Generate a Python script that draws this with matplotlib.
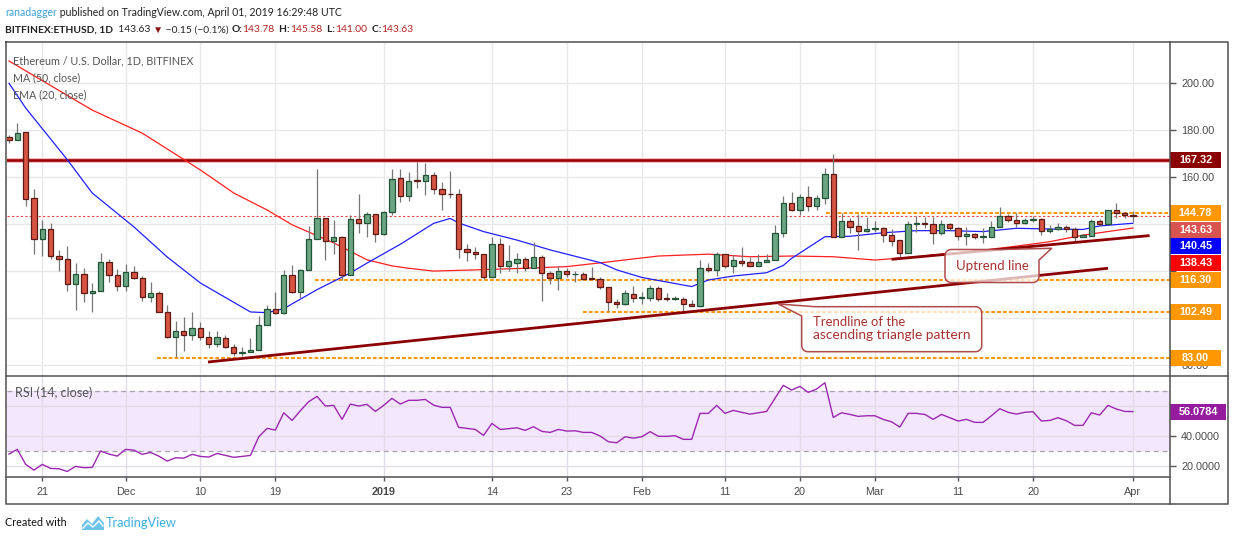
import matplotlib
matplotlib.use("Agg")
import matplotlib.pyplot as plt
import matplotlib.transforms as mtransforms
from matplotlib.patches import Rectangle, Polygon
from matplotlib.ticker import FuncFormatter
import numpy as np
import pandas as pd

plt.rcParams["font.family"] = ["Liberation Sans", "DejaVu Sans"]
NARROW = ["Lato", "Liberation Sans", "DejaVu Sans"]

START = pd.Timestamp("2018-11-17")

# daily OHLC, ETH/USD Bitfinex, 2018-11-17 .. 2019-04-01
opens = [177.2, 175.9, 179.3, 151.2, 133.8, 138.0, 126.7, 125.2, 114.8, 118.9,
         110.8, 111.5, 124.0, 118.4, 113.6, 119.7, 117.2, 109.1, 110.8, 102.7,
         91.9, 94.7, 92.9, 95.9, 91.9, 89.1, 91.6, 87.8, 85.2, 85.7,
         86.7, 97.3, 104.0, 102.3, 118.6, 111.2, 120.6, 133.8, 142.7, 133.0,
         134.6, 118.4, 142.3, 140.6, 144.4, 136.0, 145.2, 159.6, 152.2, 158.8,
         158.3, 161.0, 154.9, 152.9, 152.8, 129.3, 128.4, 127.2, 117.7, 131.5,
         122.4, 123.6, 125.2, 121.6, 125.9, 119.1, 117.3, 120.1, 118.7, 118.7,
         117.3, 116.9, 113.2, 107.1, 106.0, 110.2, 108.5, 108.6, 112.7, 108.7,
         108.4, 108.4, 106.0, 105.4, 121.3, 120.7, 127.4, 122.3, 124.5, 123.8,
         122.4, 123.8, 124.7, 136.1, 148.9, 146.1, 151.5, 148.0, 151.1, 161.4,
         134.7, 141.4, 139.3, 137.3, 138.0, 138.3, 135.5, 133.3, 128.0, 140.0,
         140.4, 140.0, 136.2, 140.0, 138.3, 135.2, 136.0, 134.5, 134.7, 139.0,
         143.6, 141.8, 140.4, 141.7, 142.3, 137.2, 138.0, 139.0, 137.9, 134.7,
         135.2, 141.5, 140.0, 145.9, 144.6, 143.78]
highs = [178.2, 183.1, 179.3, 155.0, 142.0, 140.6, 129.2, 130.6, 123.5, 121.4,
         115.0, 127.8, 125.2, 121.0, 123.3, 122.4, 117.9, 115.6, 111.5, 105.8,
         99.0, 100.4, 102.6, 98.3, 94.5, 94.5, 93.0, 89.1, 87.8, 91.6,
         100.9, 105.8, 111.1, 120.7, 122.8, 121.1, 139.1, 163.5, 142.7, 142.0,
         135.2, 144.1, 153.0, 145.2, 144.4, 145.8, 163.5, 163.4, 162.1, 166.6,
         166.0, 162.4, 158.1, 162.6, 154.9, 131.5, 130.2, 127.2, 134.7, 134.3,
         131.2, 127.9, 126.2, 132.6, 127.0, 120.1, 122.2, 121.5, 120.1, 119.8,
         122.0, 117.7, 113.5, 108.2, 112.1, 113.9, 111.3, 114.1, 113.9, 110.9,
         109.5, 109.2, 107.8, 124.8, 123.4, 128.1, 127.4, 127.0, 130.2, 126.2,
         127.3, 127.2, 139.7, 152.0, 153.9, 152.9, 156.3, 152.5, 163.8, 169.9,
         144.6, 142.5, 144.4, 142.9, 141.4, 138.7, 137.9, 133.3, 141.2, 143.5,
         143.2, 143.2, 141.8, 140.4, 138.7, 138.7, 136.4, 138.3, 141.4, 147.5,
         144.3, 144.9, 142.5, 143.5, 142.5, 139.7, 140.4, 139.7, 138.7, 135.7,
         142.1, 142.1, 146.3, 149.2, 145.3, 145.58]
lows = [174.7, 175.9, 147.7, 127.4, 126.4, 125.2, 120.0, 111.5, 103.4, 106.8,
        102.7, 111.5, 115.3, 111.5, 111.8, 116.7, 107.2, 106.8, 102.6, 91.6,
        83.4, 86.0, 90.9, 90.9, 87.4, 87.8, 87.4, 84.1, 84.1, 85.7,
        86.7, 97.3, 101.8, 101.8, 110.8, 108.6, 120.6, 133.8, 125.0, 127.5,
        116.2, 118.4, 136.3, 134.6, 132.3, 135.3, 143.8, 149.6, 150.1, 155.3,
        152.5, 152.9, 146.1, 151.3, 125.5, 124.5, 125.1, 116.6, 117.7, 119.1,
        120.3, 119.4, 120.1, 121.6, 107.3, 114.6, 112.1, 117.7, 115.6, 116.3,
        116.9, 112.3, 103.2, 104.3, 105.7, 107.1, 105.9, 107.5, 107.2, 107.2,
        107.8, 102.4, 105.4, 105.0, 119.7, 118.0, 121.4, 119.1, 122.4, 122.4,
        122.4, 123.8, 124.7, 134.7, 145.8, 143.9, 145.7, 146.1, 148.7, 134.7,
        134.7, 136.2, 129.2, 136.9, 136.9, 132.6, 130.8, 126.2, 128.0, 136.9,
        138.3, 131.6, 135.5, 137.6, 133.4, 131.0, 133.8, 132.2, 134.5, 139.0,
        141.1, 138.7, 140.1, 141.1, 135.5, 136.5, 137.6, 136.9, 133.1, 134.5,
        135.2, 139.3, 140.0, 142.5, 142.8, 141.00]
closes = [175.9, 178.9, 150.8, 133.8, 138.0, 126.7, 125.2, 114.8, 118.9, 110.8,
          111.8, 124.0, 118.4, 113.6, 119.7, 117.2, 109.1, 110.8, 102.7, 91.9,
          94.7, 92.9, 95.9, 91.9, 89.1, 91.9, 87.8, 85.2, 85.7, 86.7,
          97.3, 104.0, 102.3, 118.6, 111.2, 120.6, 133.8, 142.7, 133.0, 134.6,
          118.4, 142.3, 140.6, 144.4, 136.0, 145.2, 159.3, 152.2, 158.3, 158.3,
          161.0, 154.9, 152.8, 152.7, 129.3, 128.4, 127.2, 117.7, 131.5, 122.4,
          124.4, 125.2, 121.6, 125.9, 119.1, 117.3, 120.1, 118.7, 119.0, 116.9,
          116.9, 113.2, 107.1, 106.0, 110.7, 108.5, 109.0, 112.7, 108.4, 108.4,
          108.7, 106.0, 105.4, 121.3, 120.7, 127.4, 122.3, 124.8, 123.7, 122.4,
          123.8, 124.7, 136.1, 148.9, 146.1, 151.5, 148.0, 151.1, 161.4, 134.7,
          141.4, 139.0, 137.3, 138.0, 138.3, 135.5, 133.1, 128.0, 140.2, 140.4,
          140.0, 136.2, 140.0, 138.3, 135.2, 136.0, 134.5, 134.7, 139.0, 143.6,
          141.8, 140.4, 141.8, 142.3, 137.2, 138.0, 139.0, 137.9, 134.7, 135.3,
          141.5, 140.0, 145.9, 144.6, 143.8, 143.63]

rsi = [27.8, 30.9, 20.9, 17.1, 20.9, 18.2, 18.0, 16.2, 19.6, 18.7,
       18.9, 29.8, 27.8, 26.4, 30.9, 30.4, 27.6, 28.9, 26.4, 23.1,
       25.3, 25.1, 27.6, 26.2, 25.8, 28.2, 26.9, 25.6, 26.2, 26.9,
       39.3, 44.9, 43.8, 55.3, 50.2, 56.7, 62.7, 66.2, 59.8, 60.2,
       50.9, 61.1, 59.8, 60.9, 56.2, 60.2, 64.9, 61.1, 63.6, 63.6,
       64.2, 60.4, 58.9, 58.9, 45.6, 44.9, 44.2, 40.2, 48.2, 44.2,
       44.7, 45.3, 43.6, 46.0, 42.9, 42.2, 44.2, 43.1, 43.3, 42.2,
       42.2, 39.8, 36.0, 35.3, 39.3, 38.4, 39.3, 42.7, 39.6, 39.6,
       40.0, 37.6, 37.6, 54.9, 54.9, 60.2, 54.9, 56.9, 55.6, 54.4,
       55.3, 56.2, 64.9, 73.6, 70.4, 72.9, 68.9, 71.1, 75.3, 52.2,
       55.3, 54.2, 52.9, 53.3, 53.3, 50.9, 49.3, 45.8, 54.9, 54.9,
       54.2, 50.9, 54.2, 52.0, 49.8, 50.9, 48.9, 48.9, 53.3, 58.0,
       55.6, 54.4, 55.6, 56.0, 49.8, 50.2, 52.0, 50.0, 46.9, 46.9,
       55.3, 53.8, 60.2, 57.8, 56.2, 56.0784]

# EMA(20) and MA(50) read at sample days (days since START)
ema_days = [0, 2, 7, 10, 15, 19, 23, 29, 31, 33, 37, 41, 43, 47, 51, 53, 54, 57, 61, 65,
            71, 73, 76, 82, 83, 84, 87, 91, 93, 94, 98, 101, 105, 109, 113, 117, 121, 125, 129, 131, 135]
ema_vals = [200.0, 189.5, 167.5, 153.3, 138.9, 126.1, 115.0, 102.7, 102.4, 104.1, 112.2, 119.3,
            123.5, 131.5, 140.4, 142.5, 140.6, 136.9, 133.3, 129.1, 123.7, 120.6, 117.4, 113.5,
            114.9, 116.3, 118.0, 119.4, 122.5, 125.5, 134.7, 134.9, 136.4, 137.3, 137.3, 136.9,
            138.3, 138.0, 137.8, 139.3, 140.45]
ma_days = [0, 10, 16, 23, 27, 31, 34, 39, 43, 46, 48, 51, 56, 62, 67, 72, 78, 84, 89, 94,
           99, 104, 109, 113, 117, 121, 125, 129, 135]
ma_vals = [209.5, 188.6, 178.8, 163.1, 153.3, 146.1, 139.8, 132.1, 124.9, 122.3, 121.3, 120.1,
           120.6, 121.3, 122.0, 124.0, 126.5, 127.3, 126.2, 126.5, 126.2, 124.8, 126.2, 127.6,
           129.0, 130.7, 132.6, 135.4, 138.43]

# horizontal levels (orange dashed) and where they start (days)
resistance = 167.32
levels = [144.78, 116.30, 102.49, 83.00]
level_from = [98.1, 36.8, 68.9, 17.8]
last_price = 143.63

# trendlines (day, price)
tri_line = [(23.9, 81.4), (132.0, 121.3)]
up_line = [(106.0, 125.1), (137.0, 135.2)]

tag_vals = [167.32, 144.78, 143.63, 140.45, 138.43, 116.30, 102.49, 83.00]
tag_cols = ["#8b0000", "#ff9800", "#d9534f", "#0000ff", "#ff0000", "#ff9800", "#ff9800", "#ff9800"]
rsi_last = 56.0784

price_ticks = [80, 100, 120, 140, 160, 180, 200]
price_ticks_hidden = [100, 120, 140]   # covered by the price tags
rsi_ticks = [20, 40, 60]
rsi_ticks_hidden = [60]

tick_dates = ["2018-11-21", "2018-12-01", "2018-12-10", "2018-12-19", "2019-01-01", "2019-01-14",
              "2019-01-23", "2019-02-01", "2019-02-11", "2019-02-20", "2019-03-01", "2019-03-11",
              "2019-03-20", "2019-04-01"]
tick_labels = ["21", "Dec", "10", "19", "2019", "14", "23", "Feb", "11", "20", "Mar", "11", "20", "Apr"]
tick_pos = [(pd.Timestamp(d) - START).days for d in tick_dates]

W, H = 1234, 541
fig = plt.figure(figsize=(W / 100, H / 100), dpi=100)
fig.patch.set_facecolor("white")


def frac(l, t, r, b):
    return [l / W, 1 - b / H, (r - l) / W, (b - t) / H]


AX_L, AX_R = 6.5, 1170
ax = fig.add_axes(frac(AX_L, 43, AX_R, 376))
ax_rsi = fig.add_axes(frac(AX_L, 376, AX_R, 477))
ov = fig.add_axes([0, 0, 1, 1], zorder=10)
ov.set_xlim(0, W); ov.set_ylim(H, 0); ov.axis("off"); ov.patch.set_alpha(0)

XLIM = (-0.3, 139.45)
GRID = "#e8e8e8"
TXT = "#4a4a4a"
for a in (ax, ax_rsi):
    a.set_xlim(*XLIM)
    for s in a.spines.values():
        s.set_visible(False)
    a.set_axisbelow(True)
    a.set_xticks(tick_pos)
    a.yaxis.tick_right()
    a.tick_params(axis="y", length=4, width=1, color="#555555", labelcolor=TXT, labelsize=7.8, pad=4)

ax.set_ylim(75.45, 217.15)
ax.set_yticks(price_ticks)
ax.yaxis.set_major_formatter(FuncFormatter(
    lambda v, p: "" if round(v) in price_ticks_hidden else f"{v:.2f}"))
ax.tick_params(axis="x", length=0, labelbottom=False)
ax.grid(True, color=GRID, lw=1.0)

# ---- price pane ----
days = np.arange(len(closes))
o, c = np.array(opens), np.array(closes)
hi, lo = np.array(highs), np.array(lows)
up = c >= o
body_lo = np.minimum(o, c)
body_h = np.maximum(np.abs(c - o), 0.35)

ax.axhline(resistance, color="#f2b3b3", lw=3.4, zorder=2)
ax.axhline(resistance, color="#9b0000", lw=1.9, zorder=2.1)
for lv, x0 in zip(levels, level_from):
    ax.hlines(lv, x0, XLIM[1], color="#ff9800", lw=1.5, ls=(0, (1.8, 1.0)), zorder=2)
ax.axhline(last_price, color="#e8453c", lw=0.8, ls=(0, (2, 2)), zorder=2)

ax.plot(ma_days, ma_vals, color="#ff1f1f", lw=0.9, zorder=3)
ax.plot(ema_days, ema_vals, color="#2020ff", lw=0.9, zorder=3)

ax.vlines(days, lo, hi, color="#777777", lw=0.9, zorder=3.5)
ax.bar(days[up], body_h[up], bottom=body_lo[up], width=0.64, color="#6ba583",
       edgecolor="#225437", linewidth=0.9, zorder=4)
ax.bar(days[~up], body_h[~up], bottom=body_lo[~up], width=0.64, color="#d75442",
       edgecolor="#5b1a13", linewidth=0.9, zorder=4)

for (x0, y0), (x1, y1) in (tri_line, up_line):
    ax.plot([x0, x1], [y0, y1], color="#8b0000", lw=2.0, solid_capstyle="butt", zorder=4.5)

# price tags on the right axis
trans = mtransforms.blended_transform_factory(ax.transAxes, ax.transData)
unit_px = (376 - 43) / (ax.get_ylim()[1] - ax.get_ylim()[0])
hb, step = 16 / unit_px, 16.7 / unit_px
wb = 51 / (AX_R - AX_L)
prev = None
for v, col in zip(tag_vals, tag_cols):
    y = v if prev is None else min(v, prev - step)
    prev = y
    ax.add_patch(Rectangle((1.0, y - hb / 2), wb, hb, transform=trans, clip_on=False,
                           fc=col, ec="none", zorder=6))
    ax.text(1.0 + wb / 2, y, f"{v:.2f}", transform=trans, ha="center", va="center",
            color="white", fontsize=7.8, fontweight="bold", clip_on=False, zorder=7)

# ---- RSI pane ----
ax_rsi.set_ylim(12.5, 79.8)
ax_rsi.set_yticks(rsi_ticks)
ax_rsi.yaxis.set_major_formatter(FuncFormatter(
    lambda v, p: "" if round(v) in rsi_ticks_hidden else f"{v:.4f}"))
ax_rsi.grid(True, color="#e2dce8", lw=1.0)
ax_rsi.axhspan(30, 70, color="#f3e7fd", zorder=0.2, lw=0)
for lv in (30, 70):
    ax_rsi.axhline(lv, color="#aaa2b0", lw=0.9, ls=(0, (4, 3)), zorder=1)
ax_rsi.plot(days, rsi, color="#9c27b0", lw=1.0, zorder=3)
ax_rsi.set_xticklabels(tick_labels)
ax_rsi.tick_params(axis="x", length=3, width=1, color="#555555", labelcolor=TXT, labelsize=7.8, pad=4)
ax_rsi.get_xticklabels()[4].set_fontweight("bold")

trans_r = mtransforms.blended_transform_factory(ax_rsi.transAxes, ax_rsi.transData)
hr = 16 / ((477 - 376) / (79.8 - 12.5))
wr = 56 / (AX_R - AX_L)
ax_rsi.add_patch(Rectangle((1.0, rsi_last - hr / 2), wr, hr, transform=trans_r, clip_on=False,
                           fc="#951c9e", ec="none", zorder=6))
ax_rsi.text(1.0 + wr / 2, rsi_last, f"{rsi_last:.4f}", transform=trans_r, ha="center", va="center",
            color="white", fontsize=7.8, fontweight="bold", clip_on=False, zorder=7)

# ---- frame ----
FR = dict(color="#505050", lw=1.1, solid_capstyle="projecting")
ov.plot([6, 1228, 1228, 6, 6], [42, 42, 504, 504, 42], **FR)
ov.plot([1170, 1170], [42, 504], **FR)
ov.plot([6, 1228], [376, 376], **FR)
ov.plot([6, 1170], [477, 477], **FR)

# ---- texts ----
renderer = fig.canvas.get_renderer()


def row(x, y, pieces, width, size=8.0):
    """Lay pieces out left to right, scaled so the whole row is `width` px wide."""
    def draw(sz):
        arts, cx = [], x
        for s, col, wt in pieces:
            t = ov.text(cx, y, s, color=col, fontweight=wt, fontsize=sz, va="center",
                        ha="left", family=NARROW)
            cx += t.get_window_extent(renderer).width
            arts.append(t)
        return arts, cx - x
    arts, w = draw(size)
    for a in arts:
        a.remove()
    draw(size * width / w)


DARK = "#222222"
RED = "#b3211d"
row(5, 13, [("ranadagger", "#3ea3dc", "normal"),
            (" published on TradingView.com, April 01, 2019 16:29:48 UTC", DARK, "normal")], 338)
row(5, 30, [("BITFINEX:ETHUSD, 1D", DARK, "bold"), ("  143.63 ", DARK, "normal"),
            ("▼", "#8b1010", "normal"), (" −0.15 (−0.1%) ", DARK, "normal"),
            ("O:", DARK, "bold"), ("143.78", RED, "normal"), ("  H:", DARK, "bold"),
            ("145.58", RED, "normal"), ("  L:", DARK, "bold"), ("141.00", RED, "normal"),
            ("  C:", DARK, "bold"), ("143.63", RED, "normal")], 412)
row(12.7, 61, [("Ethereum / U.S. Dollar, 1D, BITFINEX", "#555555", "normal")], 180)
row(12.7, 78, [("MA (50, close)", "#555555", "normal")], 67)
row(12.7, 95, [("EMA (20, close)", "#555555", "normal")], 73)
row(15, 393, [("RSI (14, close)", "#555555", "normal")], 78)
row(5, 523, [("Created with", "#111111", "normal")], 62)
row(106, 523, [("TradingView", "#3bb0e3", "normal")], 71)
ov.add_patch(Polygon([(82, 530), (82, 525), (87, 519), (92, 524), (98, 516), (104, 523), (104, 530)],
                     closed=True, fc="#6cc4ea", ec="none"))
ov.plot([83, 88, 93, 99, 103], [528, 523, 527, 521, 526], color="white", lw=1.0)


# ---- callouts ----
def callout(x0, y0, x1, y1, corner, tip, pa, pb, r=6):
    def arc(cx, cy, a0, a1):
        t = np.radians(np.linspace(a0, a1, 7))
        return list(zip(cx + r * np.cos(t), cy + r * np.sin(t)))
    corners = {"tl": arc(x0 + r, y0 + r, 180, 270), "tr": arc(x1 - r, y0 + r, 270, 360),
               "br": arc(x1 - r, y1 - r, 0, 90), "bl": arc(x0 + r, y1 - r, 90, 180)}
    corners[corner] = [pa, tip, pb]
    verts = corners["tl"] + corners["tr"] + corners["br"] + corners["bl"]
    ov.add_patch(Polygon(verts, closed=True, fc=(1, 1, 1, 0.72), ec="#b04a4a", lw=1.1,
                         joinstyle="round"))


CALL = "#a83232"
callout(945, 249.5, 1039, 282.5, "tr", (1051.7, 248.3), (1000, 249.5), (1039, 260))
row(956, 266, [("Uptrend line", CALL, "normal")], 73)
callout(801.7, 306.7, 981.7, 351.7, "tl", (778.3, 304), (801.7, 316), (815, 306.7))
row(812.7, 322, [("Trendline of the", CALL, "normal")], 93)
row(812.7, 335, [("ascending triangle pattern", CALL, "normal")], 158)

fig.savefig("out.png", dpi=100)
